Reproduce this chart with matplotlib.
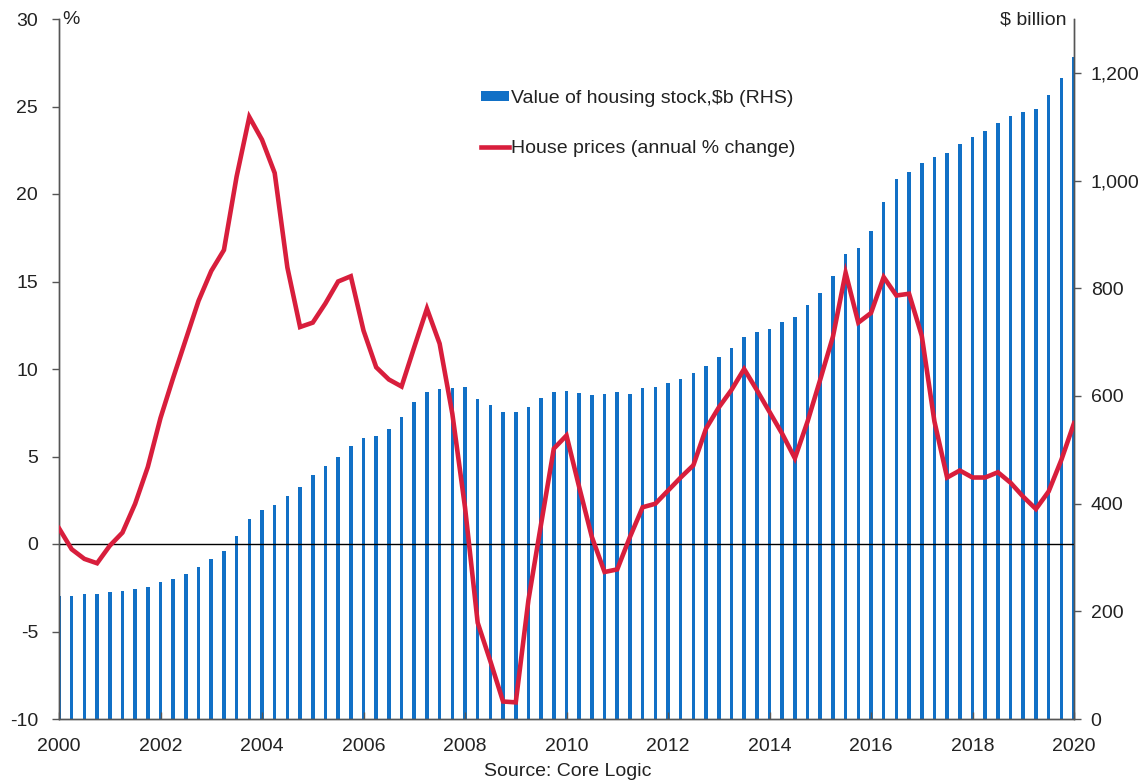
import numpy as np
import matplotlib
matplotlib.use("Agg")
import matplotlib.pyplot as plt
from matplotlib.ticker import FuncFormatter, FixedLocator

plt.rcParams['font.family'] = ['Liberation Sans', 'DejaVu Sans']
plt.rcParams['axes.unicode_minus'] = False

# Quarterly dates 2000Q1 .. 2020Q1
quarters = 2000 + 0.25 * np.arange(81)

# Value of housing stock, $b (RHS)
housing_stock = [229, 229, 232, 232, 236, 238, 241, 246, 255, 260,
                 270, 282, 298, 312, 339, 371, 388, 397, 415, 430,
                 454, 469, 486, 507, 521, 526, 539, 561, 588, 607,
                 612, 615, 617, 594, 583, 570, 570, 580, 596, 608,
                 610, 606, 602, 604, 607, 604, 615, 617, 624, 631,
                 643, 656, 672, 689, 709, 719, 725, 737, 746, 769,
                 791, 822, 863, 874, 906, 961, 1003, 1015, 1032, 1044,
                 1052, 1068, 1081, 1092, 1106, 1119, 1128, 1132, 1159, 1190,
                 1229]

# House prices, annual % change (LHS)
house_prices = [0.9, -0.3, -0.85, -1.1, -0.1, 0.65, 2.3, 4.4, 7.2, 9.5,
                11.7, 13.9, 15.6, 16.8, 21.0, 24.4, 23.1, 21.2, 15.8, 12.4,
                12.65, 13.75, 15.0, 15.3, 12.2, 10.1, 9.4, 9.0, 11.25, 13.45,
                11.45, 7.45, 2.1, -4.5, -6.7, -9.0, -9.05, -3.2, 1.15, 5.45,
                6.2, 3.25, 0.4, -1.6, -1.45, 0.4, 2.1, 2.3, 3.05, 3.8,
                4.5, 6.6, 7.8, 8.8, 10.0, 8.8, 7.55, 6.3, 4.9, 7.0,
                9.4, 11.85, 15.5, 12.65, 13.2, 15.25, 14.2, 14.3, 11.9, 7.0,
                3.8, 4.2, 3.8, 3.8, 4.1, 3.5, 2.7, 2.0, 3.0, 4.8,
                6.9]

x_ticks = list(range(2000, 2021, 2))
left_ticks = [-10, -5, 0, 5, 10, 15, 20, 25, 30]
right_ticks = [0, 200, 400, 600, 800, 1000, 1200]

BLUE = '#1170c6'
RED = '#d81e3c'
AXC = '#555555'
TXT = '#222222'
FS = 14

fig = plt.figure(figsize=(11.47, 7.83), dpi=100)
ax1 = fig.add_axes([59/1147, 1-719/783, (1074-59)/1147, (719-19)/783])
ax2 = ax1.twinx()

# bars on right axis
ax2.bar(quarters, housing_stock, width=0.07, color=BLUE, align='center',
        label='Value of housing stock,$b (RHS)', zorder=2)
ax2.set_ylim(0, 1300)
ax2.yaxis.set_major_locator(FixedLocator(right_ticks))
ax2.yaxis.set_major_formatter(FuncFormatter(lambda v, p: f"{int(v):,}"))

# line on left axis
ax1.set_zorder(ax2.get_zorder() + 1)
ax1.patch.set_visible(False)
ax1.axhline(0, color='black', lw=1.0, zorder=1)
ax1.plot(quarters, house_prices, color=RED, lw=3.3, solid_joinstyle='miter',
         label='House prices (annual % change)', zorder=3)
ax1.set_ylim(-10, 30)
ax1.set_xlim(2000, 2020)
ax1.yaxis.set_major_locator(FixedLocator(left_ticks))
ax1.xaxis.set_major_locator(FixedLocator(x_ticks))

for ax in (ax1, ax2):
    ax.spines['top'].set_visible(False)
    for s in ('left', 'right', 'bottom'):
        ax.spines[s].set_color(AXC)
        ax.spines[s].set_linewidth(1.0)
    ax.tick_params(labelsize=FS, colors=AXC, labelcolor=TXT, width=1.0)

ax1.tick_params(axis='y', direction='out', length=5, pad=10)
ax1.tick_params(axis='x', direction='in', length=5, pad=14)
ax2.tick_params(axis='y', direction='out', length=5, pad=7)

fig.text(62/1147, 1-20/783, '%', fontsize=FS, color=TXT, ha='left', va='center')
fig.text(1066/1147, 1-20/783, '$ billion', fontsize=FS, color=TXT, ha='right', va='center')
fig.text(568/1147, 1-772/783, 'Source: Core Logic', fontsize=FS, color=TXT, ha='center', va='center')

h2, l2 = ax2.get_legend_handles_labels()
h1, l1 = ax1.get_legend_handles_labels()
leg = fig.legend(h2 + h1, l2 + l1, loc='upper left',
                 bbox_to_anchor=(481/1147, 1-90/783), frameon=False,
                 borderpad=0, borderaxespad=0, fontsize=FS, handlelength=1.45,
                 handleheight=0.45, handletextpad=0.1, labelspacing=1.72)
for t in leg.get_texts():
    t.set_color(TXT)

fig.savefig('out.png', dpi=100)
